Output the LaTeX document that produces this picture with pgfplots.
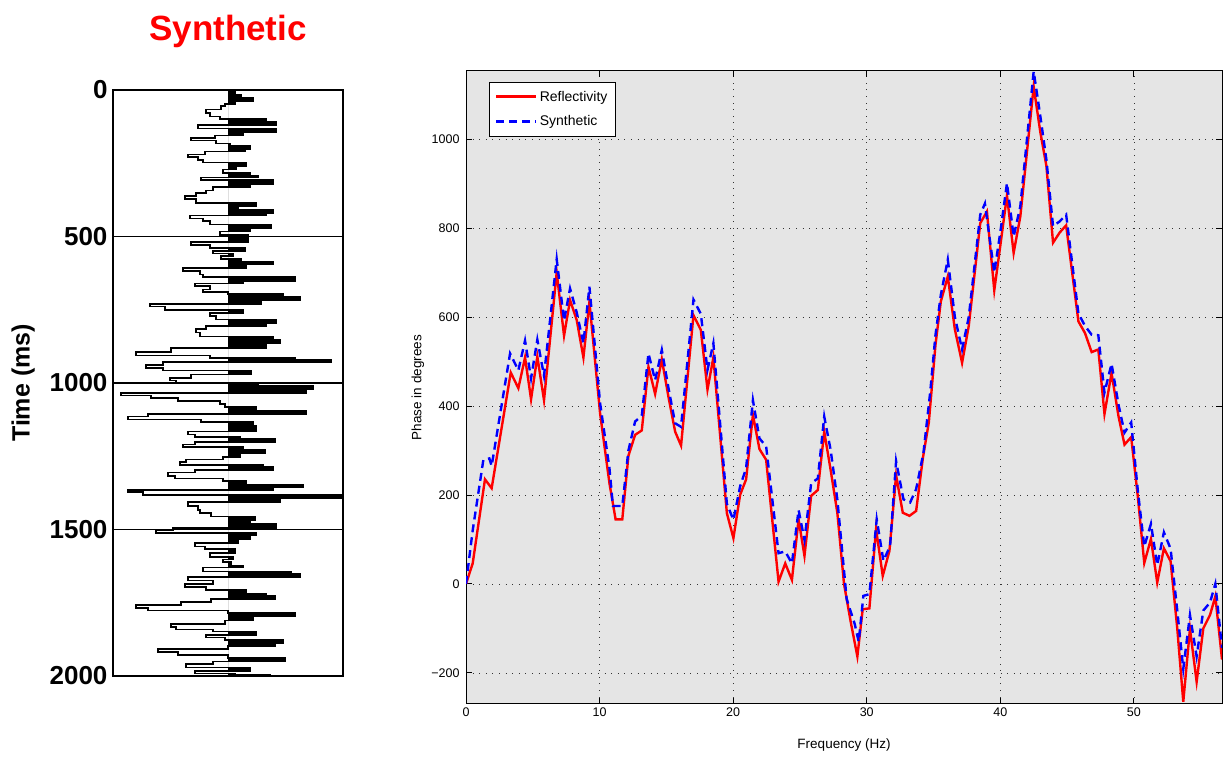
\documentclass[border=0pt]{standalone}
\usepackage{pgfplots}
\pgfplotsset{compat=1.18}
\usepackage{pgfplotstable}
\usepackage{fontspec}
\setmainfont{Liberation Sans}

\pgfplotstableread{
t a
0 0
0 7
15 13
27 25
38 7
47 -3
55 -7
66 -22
78 -18
90 -8
99 38
108 48
120 -30
131 48
143 15
155 -13
163 -37
172 -12
183 2
192 22
201 17
210 -23
220 -40
229 -30
238 -25
248 18
259 8
271 -5
283 22
292 30
299 -27
308 45
320 22
331 -15
343 -22
352 -32
362 -43
373 -32
385 28
397 10
408 45
420 38
429 -38
438 -25
448 -18
459 43
471 22
483 -8
494 20
519 -37
530 -18
539 17
549 -15
558 5
567 -7
577 13
586 45
595 18
607 -45
618 -28
630 -25
639 67
651 15
660 -33
669 -18
681 -25
690 0
697 55
706 72
718 33
730 -78
739 -63
751 15
762 -18
771 -12
783 48
795 38
806 -22
816 -32
827 -28
841 45
853 52
864 38
880 -57
894 -92
906 -18
915 67
922 103
929 -65
938 -82
948 -65
957 23
971 -37
983 -58
992 -52
1001 30
1008 85
1020 78
1034 -107
1043 -77
1052 -50
1061 -8
1071 -3
1082 28
1094 78
1106 -80
1115 -100
1124 -27
1133 25
1145 28
1166 -40
1176 -33
1184 12
1191 47
1201 -33
1210 -45
1219 15
1229 37
1240 12
1252 -5
1261 -42
1270 -48
1280 35
1287 45
1296 -33
1305 -60
1317 -53
1326 -5
1335 18
1347 75
1356 45
1365 -100
1372 -85
1382 113
1393 52
1407 -40
1419 -30
1433 -28
1444 -17
1456 27
1467 22
1481 48
1495 -55
1502 -72
1512 28
1521 22
1532 10
1546 -33
1558 -23
1567 7
1581 -18
1593 5
1602 -5
1611 3
1623 15
1630 -25
1644 63
1651 72
1662 -40
1674 -15
1686 -43
1697 -22
1706 18
1718 38
1727 47
1737 -17
1748 -47
1758 -92
1767 -80
1776 0
1785 67
1797 25
1811 -3
1822 -57
1832 -52
1841 -15
1848 28
1860 -22
1869 -3
1878 55
1887 47
1897 0
1908 -70
1918 -50
1929 0
1938 57
1950 -15
1959 -42
1971 22
1983 -33
1992 7
1997 42
2000 0
}\trace

\pgfplotstableread{
f v
0 0
0.5 46
1.42 235
1.92 215
3.35 475
3.92 440
4.42 509
4.87 415
5.34 511
5.84 413
6.79 700
7.34 558
7.79 638
8.29 593
8.79 509
9.24 634
10.04 383
10.74 226
11.2 145
11.7 145
12.16 288
12.66 335
13.16 345
13.66 488
14.16 427
14.66 505
15.16 420
15.66 342
16.1 311
17.03 604
17.58 571
18.08 437
18.52 509
19.53 159
20.02 103
20.52 200
20.97 235
21.48 380
21.97 303
22.47 279
23.4 5
23.9 46
24.4 9
24.9 145
25.34 63
25.84 198
26.34 211
26.82 342
27.3 256
27.8 160
28.3 0
28.8 -85
29.3 -163
29.7 -57
30.2 -55
30.7 123
31.2 18
31.7 74
32.2 244
32.7 160
33.2 153
33.7 164
34.2 282
34.65 363
35.15 538
35.55 635
36.07 691
36.6 572
37.14 497
37.64 580
38.5 811
39.0 837
39.55 660
40.0 760
40.5 873
41.0 744
41.5 826
42.5 1118
43.0 1015
43.45 940
43.95 767
44.45 790
44.93 806
45.85 590
46.34 564
46.84 521
47.34 527
47.8 382
48.33 474
48.85 377
49.3 313
49.8 330
50.3 195
50.78 47
51.28 101
51.75 3
52.25 80
52.75 51
53.25 -100
53.7 -265
54.2 -101
54.7 -220
55.2 -100
55.7 -70
56.1 -28
56.6 -170
}\refl

\pgfplotstableread{
f v
0 0
0.5 120
1.3 279
1.75 282
1.92 265
3.3 518
3.92 480
4.42 547
4.87 462
5.34 549
5.84 468
6.79 730
7.34 592
7.79 664
8.29 610
8.79 541
9.24 668
10.04 406
10.74 260
11.0 175
11.7 175
12.16 300
12.66 365
13.16 378
13.66 518
14.16 458
14.66 526
15.16 440
15.66 361
16.1 353
17.03 639
17.58 607
18.08 481
18.52 541
19.53 180
20.02 144
20.52 219
20.97 260
21.48 413
21.97 327
22.47 309
23.4 69
23.9 73
24.4 46
24.9 166
25.34 99
25.84 226
26.34 237
26.82 376
27.3 301
27.8 190
28.3 30
28.5 -34
29.1 -90
29.4 -130
29.75 -27
30.2 -23
30.75 145
31.25 52
31.75 85
32.2 276
32.75 190
33.25 183
33.7 213
34.25 295
34.75 430
35.15 560
35.55 650
36.07 729
36.6 600
37.14 527
37.64 600
38.5 830
38.85 855
39.55 700
40.0 790
40.5 901
41.0 781
41.5 849
42.5 1152
43.0 1051
43.45 954
43.95 804
44.45 815
44.93 830
45.85 608
46.34 580
46.84 560
47.34 559
47.8 430
48.33 495
48.85 403
49.3 340
49.8 363
50.3 209
50.78 84
51.28 135
51.75 42
52.25 116
52.75 79
53.25 -60
53.7 -191
54.2 -70
54.7 -163
55.2 -60
55.7 -42
56.1 0
56.6 -144
}\synth

\begin{document}
\begin{tikzpicture}[x=1pt,y=1pt]
\path[use as bounding box] (0,0) rectangle (1228,759);

% Left panel: synthetic trace
\begin{axis}[
  at={(113pt,83pt)}, anchor=south west,
  width=230pt, height=586pt, scale only axis,
  xmin=-115, xmax=115, ymin=0, ymax=2000, y dir=reverse,
  xtick=\empty,
  ytick={0,500,1000,1500,2000},
  yticklabels={0,500,1000,1500,2000},
  ymajorgrids, grid style={black, line width=1.5pt},
  major tick length=0pt,
  axis line style={line width=2pt},
  yticklabel style={font=\bfseries\fontsize{26}{28}\selectfont, xshift=-2pt},
  ylabel={Time (ms)},
  ylabel style={font=\bfseries\fontsize{25}{28}\selectfont, at={(axis description cs:-0.391,0.5)}, anchor=center},
  title={Synthetic},
  title style={font=\bfseries\fontsize{35}{38}\selectfont, text=red, at={(axis description cs:0.5,1.089)}, anchor=center},
]
\addplot[fill=black, draw=none, const plot mark right] table[x expr={max(\thisrow{a},0)}, y=t] {\trace} -- cycle;
\addplot[black, line width=1.6pt, const plot mark right] table[x=a, y=t] {\trace};
\end{axis}

% Right panel: phase spectrum
\begin{axis}[
  at={(466pt,55pt)}, anchor=south west,
  width=756pt, height=633pt, scale only axis,
  xmin=0, xmax=56.6, ymin=-270, ymax=1153,
  xtick={0,10,20,30,40,50},
  ytick={-200,0,200,400,600,800,1000},
  yticklabels={−200,0,200,400,600,800,1000},
  xticklabels={0,10,20,30,40,50},
  grid=major,
  grid style={black!80, line width=0.6pt, dash pattern=on 0.8pt off 5.8pt},
  axis background/.style={fill=gray!20},
  axis line style={line width=1pt},
  tick style={black, line width=0.8pt},
  tick align=inside, tick pos=both, major tick length=6pt,
  ticklabel style={font=\fontsize{12.5}{14}\selectfont},
  yticklabel style={xshift=-3pt},
  xlabel={Frequency (Hz)}, ylabel={Phase in degrees},
  label style={font=\fontsize{13.5}{15}\selectfont},
  xlabel style={at={(axis description cs:0.5,-0.065)}, anchor=center},
  ylabel style={at={(axis description cs:-0.0635,0.5)}, anchor=center},
  legend style={at={(0.0304,0.983)}, anchor=north west, draw=black, fill=white,
    font=\fontsize{14}{16}\selectfont, row sep=9pt, inner xsep=6pt, inner ysep=7pt},
  legend cell align=left,
  legend image code/.code={\draw[#1, line width=2.6pt] (0pt,0pt) -- (40pt,0pt);},
]
\addplot[red, line width=2.4pt] table[x=f, y=v] {\refl};
\addlegendentry{Reflectivity}
\addplot[blue, line width=2.4pt, dash pattern=on 8pt off 5pt] table[x=f, y=v] {\synth};
\addlegendentry{Synthetic}
\end{axis}
\end{tikzpicture}
\end{document}
